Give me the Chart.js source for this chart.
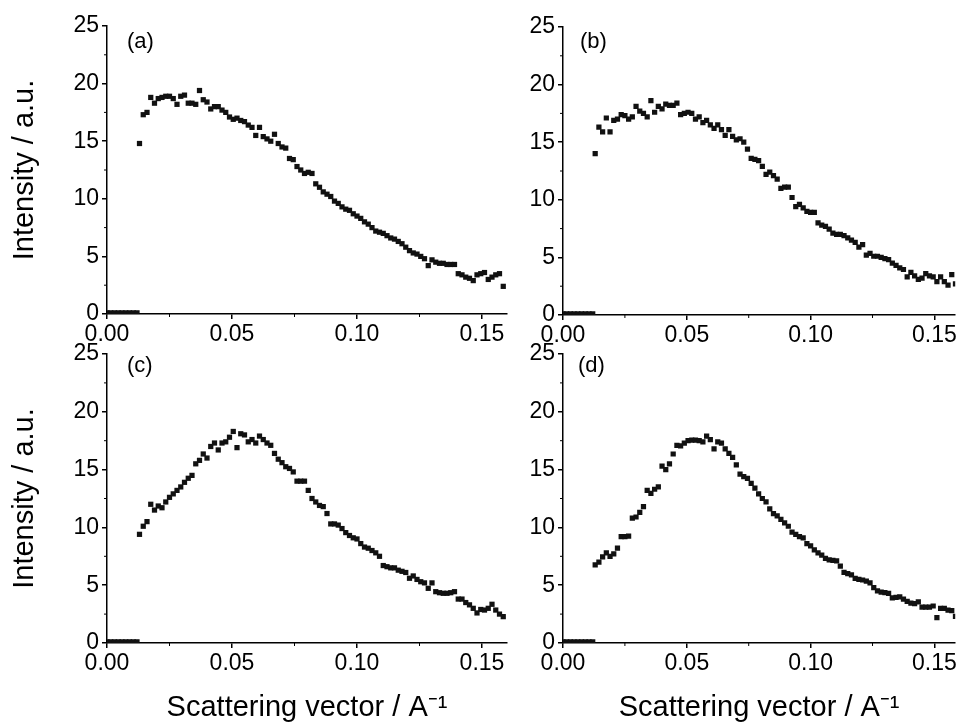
<!DOCTYPE html>
<html>
<head>
<meta charset="utf-8">
<script src="https://cdn.jsdelivr.net/npm/chart.js@4.4.0/dist/chart.umd.min.js"></script>
<style>
body{margin:0;background:#fff;overflow:hidden;width:959px;height:724px;position:relative}
canvas{position:absolute}
#panelA{left:0;top:0}
#panelB{left:480px;top:0}
#panelC{left:0;top:330px}
#panelD{left:480px;top:330px}
</style>
</head>
<body>
<canvas id="panelA" width="520" height="355"></canvas>
<canvas id="panelB" width="479" height="355"></canvas>
<canvas id="panelC" width="520" height="394"></canvas>
<canvas id="panelD" width="479" height="394"></canvas>
<script>
// scattering vector (A^-1), same grid for all four samples
const q = [
  0.0130,0.0145,0.0160,0.0175,0.0190,0.0205,0.0220,0.0235,0.0250,0.0265,
  0.0280,0.0295,0.0310,0.0325,0.0340,0.0355,0.0370,0.0385,0.0400,0.0415,
  0.0430,0.0445,0.0460,0.0475,0.0490,0.0505,0.0520,0.0535,0.0550,0.0565,
  0.0580,0.0595,0.0610,0.0625,0.0640,0.0655,0.0670,0.0685,0.0700,0.0715,
  0.0730,0.0745,0.0760,0.0775,0.0790,0.0805,0.0820,0.0835,0.0850,0.0865,
  0.0880,0.0895,0.0910,0.0925,0.0940,0.0955,0.0970,0.0985,0.1000,0.1015,
  0.1030,0.1045,0.1060,0.1075,0.1090,0.1105,0.1120,0.1135,0.1150,0.1165,
  0.1180,0.1195,0.1210,0.1225,0.1240,0.1255,0.1270,0.1285,0.1300,0.1315,
  0.1330,0.1345,0.1360,0.1375,0.1390,0.1405,0.1420,0.1435,0.1450,0.1465,
  0.1480,0.1495,0.1510,0.1525,0.1540,0.1555,0.1570,0.1585
];
// beam stop region, intensity ~0
const qLow = [0.0000,0.0015,0.0030,0.0045,0.0060,0.0075,0.0090,0.0105,0.0120];
const intLow = [0.1,0.1,0.1,0.1,0.1,0.1,0.1,0.1,0.1];

const intA = [
  14.8,17.3,17.5,18.8,18.3,18.7,18.8,18.9,18.9,18.7,
  18.2,18.9,19.0,18.3,18.3,18.2,19.4,18.6,18.4,17.8,
  18.0,18.0,17.7,17.5,17.1,16.9,17.0,16.8,16.7,16.4,
  16.2,15.5,16.2,15.4,15.2,15.0,15.6,14.8,14.5,14.4,
  13.5,13.4,12.8,12.5,12.2,12.3,12.2,11.3,11.0,10.6,
  10.4,10.2,9.8,9.6,9.3,9.1,9.0,8.7,8.5,8.3,
  8.0,7.8,7.5,7.2,7.1,7.0,6.8,6.6,6.5,6.3,
  6.1,5.8,5.5,5.3,5.2,5.0,4.8,4.2,4.7,4.5,
  4.4,4.4,4.3,4.3,4.3,3.5,3.4,3.2,3.1,2.9,
  3.4,3.5,3.6,3.0,3.2,3.4,3.5,2.4
];
const intB = [
  14.0,16.3,15.9,17.1,15.9,16.9,17.0,17.4,17.3,17.0,
  17.2,18.1,17.7,17.5,17.2,18.6,17.6,18.1,17.9,18.3,
  18.2,18.2,18.4,17.4,17.5,17.6,17.5,17.0,17.2,16.7,
  16.9,16.5,16.2,16.5,16.1,15.6,16.1,15.5,15.2,15.3,
  15.0,14.4,13.6,13.5,13.4,12.9,12.2,12.4,12.1,11.8,
  11.0,11.1,11.1,10.2,9.4,9.6,9.3,9.0,8.9,8.9,
  8.0,7.8,7.7,7.45,7.1,7.0,7.0,6.9,6.7,6.5,
  6.3,5.9,6.1,5.2,5.35,5.1,5.1,5.0,4.9,4.8,
  4.5,4.3,4.1,3.95,3.3,3.7,3.4,3.1,3.2,3.6,
  3.4,3.3,2.9,3.3,2.9,2.6,3.5,2.7
];
const intC = [
  9.4,10.1,10.5,12.0,11.5,11.85,11.7,12.2,12.6,12.9,
  13.2,13.5,13.9,14.25,14.5,15.5,15.8,16.35,16.0,17.0,
  17.3,16.7,17.3,17.4,17.8,18.3,16.9,18.1,18.0,17.4,
  17.6,17.3,17.9,17.6,17.3,17.1,16.4,15.9,15.6,15.25,
  15.1,14.8,14.0,14.0,14.0,13.2,12.5,12.2,11.9,11.8,
  11.2,10.3,10.3,10.2,9.9,9.55,9.3,9.1,9.0,8.6,
  8.3,8.2,8.0,7.8,7.5,6.7,6.6,6.5,6.5,6.3,
  6.2,6.1,5.6,5.8,5.5,5.3,5.2,4.73,5.2,4.44,
  4.35,4.3,4.3,4.35,4.44,3.8,3.8,3.5,3.3,3.0,
  2.6,2.9,2.85,3.0,3.35,2.85,2.5,2.28
];
const intD = [
  6.75,7.0,7.45,7.8,7.5,7.7,8.2,9.2,9.2,9.25,
  10.8,10.9,11.3,11.8,13.2,12.95,13.3,13.5,15.3,15.0,
  15.5,16.35,17.1,17.05,17.3,17.5,17.55,17.55,17.5,17.4,
  17.9,17.6,16.8,17.4,17.3,16.8,16.4,16.05,15.4,14.6,
  14.4,14.25,13.8,13.4,12.9,12.5,12.2,11.6,11.2,11.0,
  10.7,10.4,10.1,9.6,9.4,9.2,9.1,8.6,8.4,8.05,
  7.8,7.6,7.33,7.2,7.15,7.1,6.66,6.1,6.0,5.9,
  5.6,5.5,5.45,5.35,5.2,4.8,4.5,4.4,4.35,4.3,
  3.9,3.95,4.0,3.8,3.6,3.45,3.4,3.55,3.1,3.1,
  3.1,3.2,2.2,3.0,3.0,2.85,2.8,2.3
];

const yMinor = [2.5,7.5,12.5,17.5,22.5];
const xMinor = [0.025,0.075,0.125];

Chart.defaults.font.family = "'Liberation Sans', Arial, sans-serif";
Chart.defaults.color = '#000';

/*** minor ticks, like the origin plot ***/
const minorTicks = {
  id:'minorTicks',
  afterDraw(chart){
    const {ctx, chartArea:a} = chart;
    const x = chart.scales.x, y = chart.scales.y;
    ctx.save();
    ctx.strokeStyle = '#000';
    ctx.lineWidth = 1;
    ctx.beginPath();
    yMinor.forEach(v=>{
      const py = y.getPixelForValue(v);
      ctx.moveTo(a.left, py); ctx.lineTo(a.left-3, py);
    });
    xMinor.forEach(v=>{
      if(v > x.max) return;
      const px = x.getPixelForValue(v);
      ctx.moveTo(px, a.bottom); ctx.lineTo(px, a.bottom+3);
    });
    ctx.stroke();
    ctx.restore();
  }
};

const panelTag = {
  id:'panelTag',
  afterDraw(chart, args, opts){
    const {ctx, chartArea:a} = chart;
    ctx.save();
    ctx.font = "22px 'Liberation Sans', Arial, sans-serif";
    ctx.fillStyle = '#000';
    ctx.textBaseline = 'middle';
    ctx.fillText(opts.text, a.left+opts.dx, a.top+opts.dy);
    ctx.restore();
  }
};

function makePanel(id, values, o){
  return new Chart(document.getElementById(id), {
    type:'scatter',
    data:{
      datasets:[
        {data: qLow.map((x,i)=>({x:x, y:intLow[i]}))},
        {data: q.map((x,i)=>({x:x, y:values[i]}))}
      ]
    },
    options:{
      responsive:false,
      animation:false,
      events:[],
      layout:{padding:{top:o.top, right:o.right, left:0, bottom:0}},
      elements:{point:{pointStyle:'rect', radius:3.7, hoverRadius:3.7, backgroundColor:'#111', borderWidth:0}},
      plugins:{
        legend:{display:false},
        tooltip:{enabled:false},
        panelTag:{text:o.tag, dx:o.dx, dy:o.dy}
      },
      scales:{
        x:{
          type:'linear', min:0, max:o.xmax,
          afterFit(s){ s.height = o.xh; },
          border:{color:'#000', width:1.5},
          grid:{drawOnChartArea:false, tickLength:5, color:'#000', lineWidth:1.5},
          ticks:{stepSize:0.05, includeBounds:false, padding:2, maxRotation:0, autoSkip:false,
                 font:{size:23}, callback:v=>v.toFixed(2)},
          title:{display:o.xTitle, text:'Scattering vector / A⁻¹',
                 font:{size:29, lineHeight:1}, padding:{top:0, bottom:1.5}}
        },
        y:{
          min:0, max:25,
          afterFit(s){ s.width = o.yw; },
          border:{color:'#000', width:1.5},
          grid:{drawOnChartArea:false, tickLength:5, color:'#000', lineWidth:1.5},
          ticks:{stepSize:5, padding:3, font:{size:23}},
          title:{display:o.yTitle, text:'Intensity / a.u.',
                 font:{size:29, lineHeight:1}, padding:{top:10.5, bottom:0}}
        }
      }
    },
    plugins:[minorTicks, panelTag]
  });
}

makePanel('panelA', intA, {tag:'(a)', dx:20, dy:16, top:26, right:13, yw:107, xh:41, xmax:0.16, xTitle:false, yTitle:true});
makePanel('panelB', intB, {tag:'(b)', dx:17, dy:15, top:27, right:0, yw:83, xh:40, xmax:0.1584, xTitle:false, yTitle:false});
makePanel('panelC', intC, {tag:'(c)', dx:20, dy:12, top:24, right:13, yw:107, xh:81, xmax:0.16, xTitle:true, yTitle:true});
makePanel('panelD', intD, {tag:'(d)', dx:15, dy:12, top:24, right:0, yw:83, xh:81, xmax:0.1584, xTitle:true, yTitle:false});
</script>
</body>
</html>
